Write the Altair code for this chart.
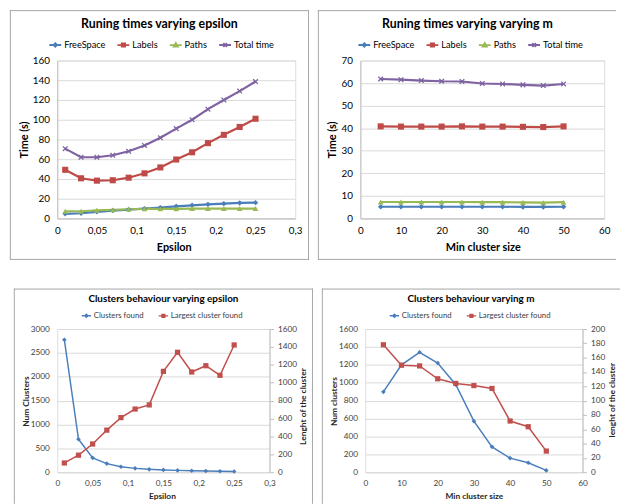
import altair as alt
import pandas as pd

# ---------------- data ----------------
EPS = [0.01, 0.03, 0.05, 0.07, 0.09, 0.11, 0.13, 0.15, 0.17, 0.19, 0.21, 0.23, 0.25]
M = [5, 10, 15, 20, 25, 30, 35, 40, 45, 50]

TIME_SERIES = ["FreeSpace", "Labels", "Paths", "Total time"]
eps_freespace = [4.7, 5.3, 6.7, 8.0, 9.0, 10.0, 11.0, 12.3, 13.3, 14.3, 15.0, 15.7, 16.0]
eps_labels = [49.3, 40.7, 38.3, 38.7, 41.3, 45.7, 51.7, 59.7, 67.0, 76.3, 84.7, 92.7, 101.0]
eps_paths = [7.3, 7.3, 8.3, 8.7, 9.3, 9.7, 9.7, 9.7, 10.0, 10.0, 10.0, 10.0, 10.0]
eps_total = [70.7, 62.0, 62.0, 64.0, 68.0, 74.0, 81.7, 91.0, 100.0, 110.7, 120.0, 129.0, 138.7]

m_freespace = [5.2, 5.2, 5.2, 5.2, 5.2, 5.2, 5.2, 5.1, 5.1, 5.2]
m_labels = [40.8, 40.7, 40.7, 40.7, 40.8, 40.7, 40.7, 40.6, 40.5, 40.8]
m_paths = [7.3, 7.3, 7.3, 7.3, 7.3, 7.2, 7.2, 7.1, 7.0, 7.2]
m_total = [61.8, 61.5, 61.1, 60.8, 60.7, 59.8, 59.6, 59.2, 58.9, 59.6]

CLUSTER_SERIES = ["Clusters found", "Largest cluster found"]
eps_clusters = [2775, 690, 300, 180, 115, 80, 60, 48, 38, 30, 25, 20, 15]
eps_largest = [103, 190, 315, 470, 610, 706, 752, 1127, 1340, 1120, 1190, 1083, 1422]
m_clusters = [898, 1200, 1340, 1220, 978, 570, 283, 157, 105, 20]
m_largest = [178, 149.5, 148.5, 130.5, 124, 121, 117, 71.5, 63.5, 29.5]

EPS_TICKS = [0, 0.05, 0.1, 0.15, 0.2, 0.25, 0.3]
M_TICKS = [0, 10, 20, 30, 40, 50, 60]
TL_Y_TICKS = [0, 20, 40, 60, 80, 100, 120, 140, 160]
TR_Y_TICKS = [0, 10, 20, 30, 40, 50, 60, 70]
BL_Y_TICKS = [0, 500, 1000, 1500, 2000, 2500, 3000]
BL_Y2_TICKS = [0, 200, 400, 600, 800, 1000, 1200, 1400, 1600]
BR_Y_TICKS = [0, 200, 400, 600, 800, 1000, 1200, 1400, 1600]
BR_Y2_TICKS = [0, 20, 40, 60, 80, 100, 120, 140, 160, 180, 200]

# ---------------- style ----------------
FONT = "Lato"
TIME_COLORS = ["#4A7EBB", "#BE4B48", "#98B954", "#7E62A1"]
CL_COLORS = ["#4A7EBB", "#C0504D"]
GRID = "#d9d9d9"
DOMAIN = "#bfbfbf"
BORDER = "#a6a6a6"
XPATH = "M-1,-1L1,1M-1,1L1,-1"
COMMA = "replace(toString(datum.value), '.', ',')"

ONE = pd.DataFrame({"k": [0]})


def frame_layers(x0, y0, x1, y1, sides):
    layers = [alt.Chart(ONE).mark_rect(opacity=0).encode(
        x=alt.value(x0), x2=alt.value(x1), y=alt.value(y0), y2=alt.value(y1))]
    for s in sides:
        if s == "left":
            c = (x0 + 0.5, x0 + 0.5, y0, y1)
        elif s == "right":
            c = (x1 - 0.5, x1 - 0.5, y0, y1)
        elif s == "top":
            c = (x0, x1, y0 + 0.5, y0 + 0.5)
        else:
            c = (x0, x1, y1 - 0.5, y1 - 0.5)
        layers.append(alt.Chart(ONE).mark_rule(color=BORDER, strokeWidth=1).encode(
            x=alt.value(c[0]), x2=alt.value(c[1]), y=alt.value(c[2]), y2=alt.value(c[3])))
    return layers


def title_layer(text, cx, cy, size):
    return alt.Chart(ONE).mark_text(
        text=text, font=FONT, fontSize=size, fontWeight="bold", color="#000000",
        align="center", baseline="middle").encode(x=alt.value(cx), y=alt.value(cy))


def legend_layer(names, colors, paths, lx, ly, size, fsize, sw, colpad, lcolor):
    df = pd.DataFrame({"entry": names})
    leg = alt.Legend(orient="none", legendX=lx, legendY=ly, direction="horizontal",
                     columns=len(names), title=None, labelFont=FONT, labelFontSize=fsize,
                     labelColor=lcolor, symbolSize=size, symbolStrokeWidth=sw,
                     labelOffset=2, columnPadding=colpad, padding=0, rowPadding=0)
    sc = alt.Scale(domain=names, range=colors)
    return alt.Chart(df).transform_filter("false").mark_point(filled=True, opacity=1).encode(
        fill=alt.Fill("entry:N", scale=sc, legend=leg),
        stroke=alt.Stroke("entry:N", scale=sc, legend=leg),
        shape=alt.Shape("entry:N", scale=alt.Scale(domain=names, range=paths), legend=leg),
    )


def time_panel(xs, vals, x_dom, x_ticks, x_expr, x_title, y_dom, y_ticks, title, g):
    n = len(xs)
    df = pd.DataFrame({
        "x": xs * 4,
        "series": sum([[s] * n for s in TIME_SERIES], []),
        "y": vals[0] + vals[1] + vals[2] + vals[3],
    })
    xax = dict(values=x_ticks, title=x_title, titleX=g["xtx"], titleY=29, titleAlign="center",
               titleBaseline="middle", titleFont=FONT, titleFontSize=11, titleFontWeight="bold",
               titleColor="#000000", labelFont=FONT, labelFontSize=10, labelColor="#000000",
               labelPadding=7, ticks=False, domainColor=DOMAIN, grid=False, labelFlush=False,
               labelOverlap=False)
    if x_expr:
        xax["labelExpr"] = x_expr
    x_enc = alt.X("x:Q", scale=alt.Scale(domain=x_dom, nice=False, zero=True), axis=alt.Axis(**xax))
    y_enc = alt.Y("y:Q", scale=alt.Scale(domain=y_dom, nice=False),
                  axis=alt.Axis(values=y_ticks, format="d", title="Time (s)", titleX=g["ytx"], titleY=80,
                                titleAngle=270, titleAlign="center", titleBaseline="middle",
                                titleFont=FONT, titleFontSize=11, titleFontWeight="bold",
                                titleColor="#000000", labelFont=FONT, labelFontSize=10,
                                labelColor="#000000", labelPadding=8, ticks=False,
                                domainColor=DOMAIN, grid=True, gridColor=GRID, labelOverlap=False))
    markers = [("diamond", 30, True), ("square", 38, True), ("triangle-up", 34, True), (XPATH, 22, False)]
    series_layers = []
    for name, col, (shp, size, filled) in zip(TIME_SERIES, TIME_COLORS, markers):
        base = alt.Chart(df).transform_filter(alt.datum.series == name)
        series_layers.append(base.mark_line(strokeWidth=2.2, color=col).encode(x_enc, y_enc))
    for name, col, (shp, size, filled) in zip(TIME_SERIES, TIME_COLORS, markers):
        base = alt.Chart(df).transform_filter(alt.datum.series == name)
        series_layers.append(base.mark_point(shape=shp, size=size, filled=filled, opacity=1,
                                             strokeWidth=1.3, color=col).encode(x_enc, y_enc))
    leg = legend_layer(TIME_SERIES, TIME_COLORS,
                       ["M-1,0L1,0M0,-0.3L0.3,0L0,0.3L-0.3,0Z",
                        "M-1,0L1,0M-0.28,-0.28H0.28V0.28H-0.28Z",
                        "M-1,0L1,0M0,-0.35L0.35,0.28L-0.35,0.28Z",
                        "M-1,0L1,0M-0.3,-0.3L0.3,0.3M-0.3,0.3L0.3,-0.3"],
                       g["lx"], g["ly"], 144, 9.3, 1.8, 8, "#000000")
    layers = frame_layers(*g["box"], g["sides"]) + series_layers + [leg, title_layer(title, g["tx"], g["ty"], 12.5)]
    return alt.layer(*layers).properties(width=g["w"], height=160)


def cluster_panel(xs, c_vals, l_vals, x_dom, x_ticks, x_expr, x_title, y_dom, y_ticks,
                  y_title, y2_dom, y2_ticks, y2_title, title, g):
    df = pd.DataFrame({"x": xs, "clusters": c_vals, "largest": l_vals})
    xax = dict(values=x_ticks, title=x_title, titleX=g["xtx"], titleY=24, titleAlign="center",
               titleBaseline="middle", titleFont=FONT, titleFontSize=8.5, titleFontWeight="bold",
               titleColor="#262626", labelFont=FONT, labelFontSize=8.3, labelColor="#404040",
               labelPadding=6, ticks=False, domainColor=GRID, grid=False, labelFlush=False,
               labelOverlap=False)
    if x_expr:
        xax["labelExpr"] = x_expr
    x_enc = alt.X("x:Q", scale=alt.Scale(domain=x_dom, nice=False, zero=True), axis=alt.Axis(**xax))
    yl = alt.Y("clusters:Q", scale=alt.Scale(domain=y_dom, nice=False),
               axis=alt.Axis(orient="left", values=y_ticks, format="d", title=y_title, titleX=-32, titleY=73,
                             titleAngle=270, titleAlign="center", titleBaseline="middle",
                             titleFont=FONT, titleFontSize=8.5, titleFontWeight="bold",
                             titleColor="#262626", labelFont=FONT, labelFontSize=8.3,
                             labelColor="#404040", labelPadding=8, ticks=False, domain=False,
                             grid=True, gridColor=GRID, labelOverlap=False))
    yr = alt.Y("largest:Q", scale=alt.Scale(domain=y2_dom, nice=False),
               axis=alt.Axis(orient="right", values=y2_ticks, format="d", title=y2_title, titleX=g["y2tx"],
                             titleY=g["y2ty"], titleAngle=270, titleAlign="center",
                             titleBaseline="middle", titleFont=FONT, titleFontSize=8.5,
                             titleFontWeight="bold", titleColor="#262626", labelFont=FONT,
                             labelFontSize=8.3, labelColor="#404040", labelPadding=4,
                             ticks=True, tickSize=4, tickColor=DOMAIN, domain=True,
                             domainColor=DOMAIN, grid=False, labelOverlap=False))
    ga = alt.layer(
        alt.Chart(df).mark_line(color=CL_COLORS[0], strokeWidth=1.5).encode(x_enc, yl),
        alt.Chart(df).mark_point(shape="diamond", filled=True, size=22, color=CL_COLORS[0], opacity=1).encode(x_enc, yl),
    )
    gb = alt.layer(
        alt.Chart(df).mark_line(color=CL_COLORS[1], strokeWidth=1.5).encode(x_enc, yr),
        alt.Chart(df).mark_point(shape="square", filled=True, size=28, color=CL_COLORS[1], opacity=1).encode(x_enc, yr),
    )
    leg = legend_layer(CLUSTER_SERIES, CL_COLORS,
                       ["M-1,0L1,0M0,-0.33L0.33,0L0,0.33L-0.33,0Z",
                        "M-1,0L1,0M-0.3,-0.3H0.3V0.3H-0.3Z"],
                       g["lx"], g["ly"], 90, 7.9, 1.4, 11, "#404040")
    layers = frame_layers(*g["box"], g["sides"]) + [ga, gb, leg, title_layer(title, g["tx"], g["ty"], 10)]
    return alt.layer(*layers).resolve_scale(y="independent").properties(width=g["w"], height=145)


tl = time_panel(EPS, [eps_freespace, eps_labels, eps_paths, eps_total], [0, 0.3], EPS_TICKS, COMMA,
                "Epsilon", [0, 160], TL_Y_TICKS, "Runing times varying epsilon",
                dict(w=241, box=(-48, -51, 255, 202), sides=["left", "top", "right", "bottom"],
                     xtx=118, ytx=-33, lx=-9, ly=-23, tx=103.5, ty=-37))
tr = time_panel(M, [m_freespace, m_labels, m_paths, m_total], [0, 60], M_TICKS, None,
                "Min cluster size", [0, 70], TR_Y_TICKS, "Runing times varying varying m",
                dict(w=247, box=(-43, -51, 259, 202), sides=["left", "top", "bottom"],
                     xtx=124, ytx=-28, lx=-3, ly=-23, tx=108.5, ty=-37))
bl = cluster_panel(EPS, eps_clusters, eps_largest, [0, 0.3], EPS_TICKS, COMMA, "Epsilon",
                   [0, 3000], BL_Y_TICKS, "Num Clusters", [0, 1600], BL_Y2_TICKS,
                   "Lenght of the cluster", "Clusters behaviour varying epsilon",
                   dict(w=215, box=(-44, -41, 259, 177), sides=["left", "top", "right"],
                        xtx=106, y2tx=33, y2ty=78, lx=24, ly=-19, tx=107.5, ty=-30))
br = cluster_panel(M, m_clusters, m_largest, [0, 60], M_TICKS, None, "Min cluster size",
                   [0, 1600], BR_Y_TICKS, "Num clusters", [0, 200], BR_Y2_TICKS,
                   "lenght of the cluster", "Clusters behaviour varying m",
                   dict(w=220, box=(-44, -41, 258, 177), sides=["left", "top"],
                        xtx=110, y2tx=29, y2ty=71.5, lx=24, ly=-19, tx=107, ty=-30))

IND = dict(fill="independent", stroke="independent", shape="independent")

top = alt.hconcat(tl, tr, spacing=7).resolve_scale(**IND).resolve_legend(**IND)
bottom = alt.hconcat(bl, br, spacing=7).resolve_scale(**IND).resolve_legend(**IND)
chart = alt.vconcat(top, bottom, spacing=27).resolve_scale(**IND).resolve_legend(**IND).properties(
    padding={"left": 9, "top": 6, "right": 0, "bottom": 0}, background="white"
).configure_view(strokeWidth=0).configure(font=FONT)

chart.save("out.html", embed_options={"renderer": "svg", "actions": False})
